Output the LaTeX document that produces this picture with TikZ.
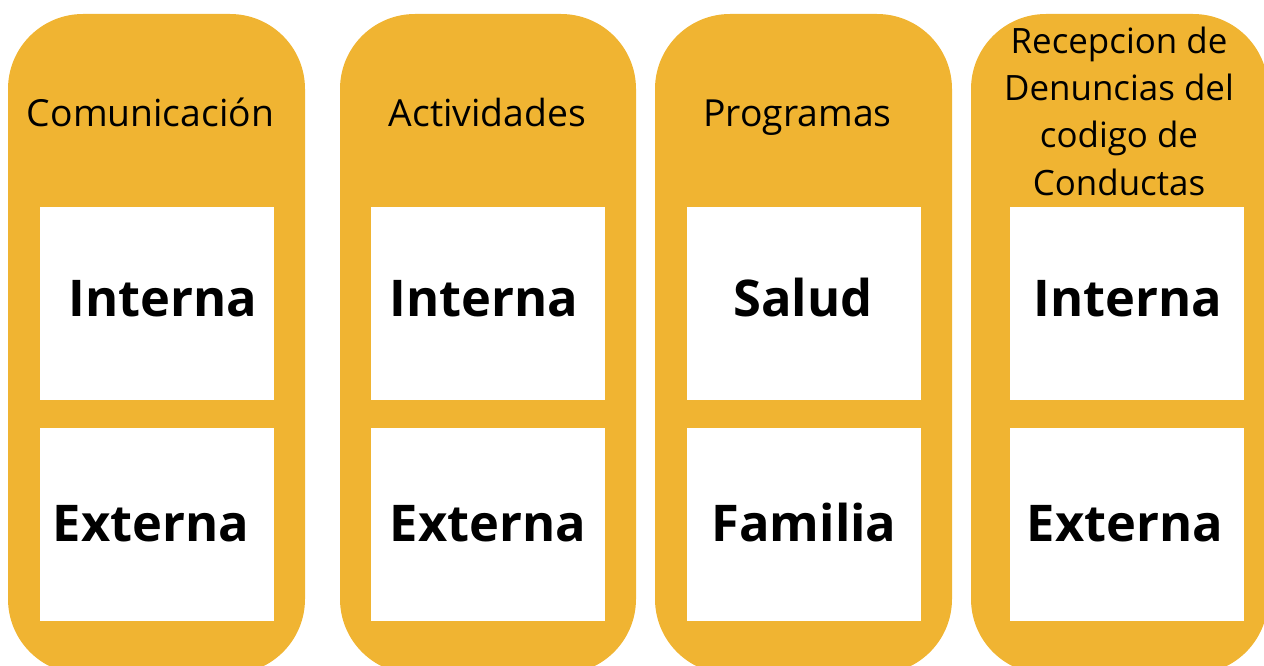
\documentclass[tikz,border=0pt]{standalone}
\usepackage{fontspec}
\setmainfont{Open Sans}
\definecolor{panelgold}{HTML}{F0B432}
\newcommand{\drawPanel}[2]{
\fill [panelgold,rounded corners=75pt] (#1,14) rectangle (#2,674);
}
\tikzset{
  head/.style={font=\fontsize{37.3}{47.3}\selectfont,anchor=base,align=center},
  card/.style={fill=white,minimum width=234pt,minimum height=193pt,inner sep=0pt,anchor=north west},
  cardtext/.style={font=\fontsize{50.6}{60}\selectfont\bfseries,anchor=base},
}
\begin{document}
\begin{tikzpicture}[x=1pt,y=-1pt]
\clip (0,0) rectangle (1264,666);
\drawPanel{8}{305};\drawPanel{340}{636};\drawPanel{655}{952};\drawPanel{971}{1268};
%
\node (hCom) at (150.5,127) [head] {Comunicación};
\node (hAct) at (487.5,127) [head] {Actividades};
\node (hPro) at (797.5,127) [head] {Programas};
\node (hRec) at (1119,195) [head,font=\fontsize{34.9}{47.3}\selectfont] {Recepcion de\\Denuncias del\\codigo de\\Conductas};
%
\node (cComIn) at (40,207) [card] {};\node (cComEx) at (40,428) [card] {};
\node (cActIn) at (371,207) [card] {};\node (cActEx) at (371,428) [card] {};
\node (cProSa) at (687,207) [card] {};\node (cProFa) at (687,428) [card] {};
\node (cRecIn) at (1010,207) [card] {};\node (cRecEx) at (1010,428) [card] {};
%
\node (tComIn) at (163,316) [cardtext] {Interna};\node (tComEx) at (151,541) [cardtext] {Externa};
\node (tActIn) at (484,316) [cardtext] {Interna};\node (tActEx) at (488,541) [cardtext] {Externa};
\node (tProSa) at (803,316) [cardtext] {Salud};\node (tProFa) at (804,541) [cardtext] {Familia};
\node (tRecIn) at (1128,316) [cardtext] {Interna};\node (tRecEx) at (1125,541) [cardtext] {Externa};
\end{tikzpicture}
\end{document}
